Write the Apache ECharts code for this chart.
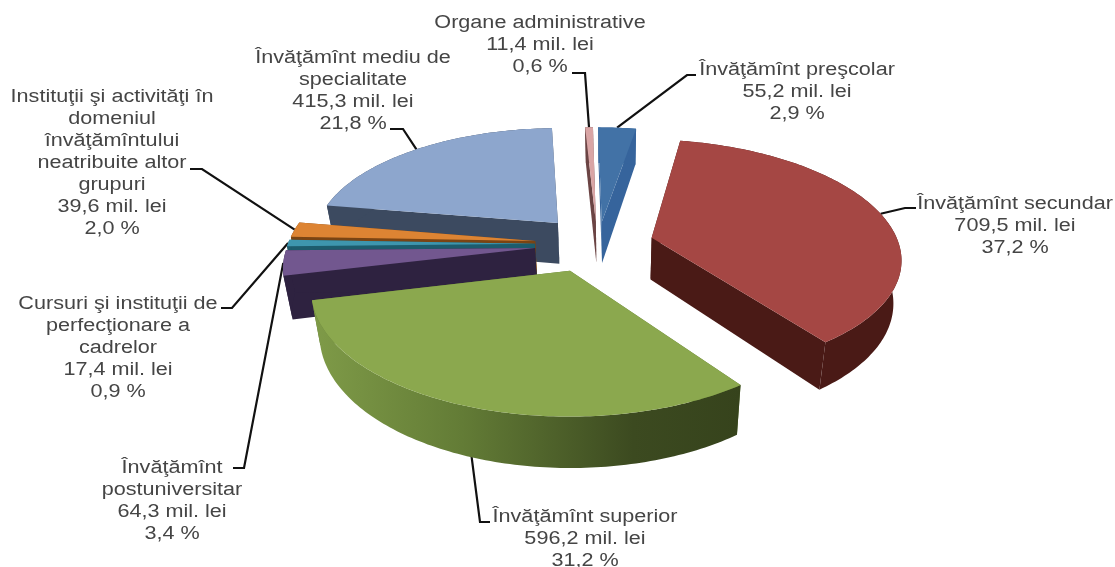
<!DOCTYPE html>
<html>
<head>
<meta charset="utf-8">
<title>Cheltuieli pentru învăţămînt</title>
<script src="https://cdn.jsdelivr.net/npm/echarts@6/dist/echarts.min.js"></script>
<style>
html, body { margin: 0; padding: 0; background: #fff; }
#pie3d { width: 1115px; height: 567px; }
</style>
</head>
<body>
<div id="pie3d"></div>
<script>
var names = [
    'Învăţămînt preşcolar',
    'Învăţămînt secundar',
    'Învăţămînt superior',
    'Învăţămînt\npostuniversitar',
    'Cursuri şi instituţii de\nperfecţionare a\ncadrelor',
    'Instituţii şi activităţi în\ndomeniul\nînvăţămîntului\nneatribuite altor\ngrupuri',
    'Învăţămînt mediu de\nspecialitate',
    'Organe administrative'
];
var amounts = [55.2, 709.5, 596.2, 64.3, 17.4, 39.6, 415.3, 11.4];
var percents = [2.9, 37.2, 31.2, 3.4, 0.9, 2.0, 21.8, 0.6];

// look of the slices, same order as names
var topColors = ['#4272a6', '#a54744', '#8ba84e', '#72578f', '#3e96ae', '#dd8433', '#8da6cd', '#d9a5a5'];
var sideColors = ['#36649c', '#4a1a16', '#5e7733', '#2e2240', '#1d5c6d', '#7a4413', '#3c4a60', '#6b4444'];
var explode = [0.197, 0.245, 0.24, 0.265, 0.265, 0.265, 0.25, 0.197];
var nudgeU = [0.012, -0.008, -0.018, 0.02, 0.02, 0.02, 0.012, 0.009]; // slices are not moved exactly along their middle
var drawOrder = [6, 7, 0, 5, 4, 3, 1, 2];

// label centre x / first line middle y, leader elbow and where the leader stops
var labelPos = [
    [797, 70], [1015, 204], [585, 517], [172, 468],
    [118, 304], [112, 97], [353, 58], [540, 23]
];
var leaderEnds = [
    [[687, 75], [696, 75]], [[905, 208], [916, 208]], [[480, 522], [490, 522]], [[244, 468], [233, 468]],
    [[232, 308], [221, 308]], [[202, 169], [190, 169]], [[403, 129], [390, 129]], [[585, 73], [572, 73]]
];

// the disk plane seen through a perspective camera
var camX = 573, camY = 244;
var radiusX = 247, radiusY = 115, tilt = 0.15;
var pieU = 0.09, pieV = 0;
var depth = 42, squeeze = 0.028, vanishX = 612;

var total = amounts.reduce(function (a, b) { return a + b; }, 0);
var angles = [];
var run = 0;
amounts.forEach(function (v) {
    angles.push([run / total * 360, (run + v) / total * 360]);
    run += v;
});

function rad(d) { return d * Math.PI / 180; }

// r = 0 is the apex of the slice, r = 1 the rim. low = true gives the underside.
function project(i, deg, r, low) {
    var mid = rad((angles[i][0] + angles[i][1]) / 2);
    var U = pieU + nudgeU[i] + explode[i] * Math.sin(mid) + Math.sin(rad(deg)) * r;
    var V = pieV + explode[i] * Math.cos(mid) + Math.cos(rad(deg)) * r;
    var s = 1 / (1 + tilt * V);
    var x = camX + radiusX * U * s;
    var y = camY - radiusY * V * s;
    if (low) {
        x += (vanishX - x) * squeeze;
        y += depth * s;
    }
    return [x, y];
}

function arc(i, from, to, low) {
    var pts = [];
    var steps = Math.max(2, Math.ceil(Math.abs(to - from)));
    for (var k = 0; k <= steps; k++) {
        pts.push(project(i, from + (to - from) * k / steps, 1, low));
    }
    return pts;
}

function poly(points, fill) {
    return { type: 'polygon', shape: { points: points }, style: { fill: fill, stroke: null } };
}

function cutFace(i, deg, fill) {
    return poly([
        project(i, deg, 0, false), project(i, deg, 1, false),
        project(i, deg, 1, true), project(i, deg, 0, true)
    ], fill);
}

function renderSlice(params, api) {
    var i = api.value(0);
    var a = angles[i];
    var side = sideColors[i];
    if (i === 2) {
        side = new echarts.graphic.LinearGradient(0, 0, 1, 0, [
            { offset: 0, color: '#7f9b48' },
            { offset: 0.35, color: '#637c36' },
            { offset: 0.75, color: '#3c4a20' },
            { offset: 1, color: '#36431c' }
        ]);
    }
    var rim = arc(i, a[0], a[1], false).concat(arc(i, a[1], a[0], true));
    var top = [project(i, a[0], 0, false)].concat(arc(i, a[0], a[1], false));
    return {
        type: 'group',
        children: [
            cutFace(i, a[0], sideColors[i]),
            cutFace(i, a[1], sideColors[i]),
            poly(rim, side),
            poly(top, topColors[i])
        ]
    };
}

function labelText(i) {
    return names[i] + '\n' + amounts[i].toFixed(1).replace('.', ',') + ' mil. lei\n' +
        percents[i].toFixed(1).replace('.', ',') + ' %';
}

function renderLabel(params, api) {
    var i = api.value(0);
    var mid = (angles[i][0] + angles[i][1]) / 2;
    var pts = [project(i, mid, 1, false)].concat(leaderEnds[i]);
    return {
        type: 'group',
        children: [
            {
                type: 'polyline',
                shape: { points: pts },
                style: { fill: null, stroke: '#111', lineWidth: 2.2 }
            },
            {
                type: 'text',
                x: labelPos[i][0],
                y: labelPos[i][1] - 11,
                scaleX: 1.2,
                style: {
                    x: 0,
                    y: 0,
                    text: labelText(i),
                    align: 'center',
                    verticalAlign: 'top',
                    fill: '#454545',
                    font: '18px "Liberation Sans", Arial, sans-serif',
                    lineHeight: 22
                }
            }
        ]
    };
}

var chart = echarts.init(document.getElementById('pie3d'));
chart.setOption({
    backgroundColor: '#fff',
    animation: false,
    series: [
        {
            type: 'custom',
            coordinateSystem: 'none',
            renderItem: renderLabel,
            silent: true,
            z: 1,
            data: names.map(function (n, i) { return [i, amounts[i]]; })
        },
        {
            type: 'custom',
            coordinateSystem: 'none',
            renderItem: renderSlice,
            silent: true,
            z: 2,
            data: drawOrder.map(function (i) { return [i, amounts[i]]; })
        }
    ]
});
</script>
</body>
</html>
